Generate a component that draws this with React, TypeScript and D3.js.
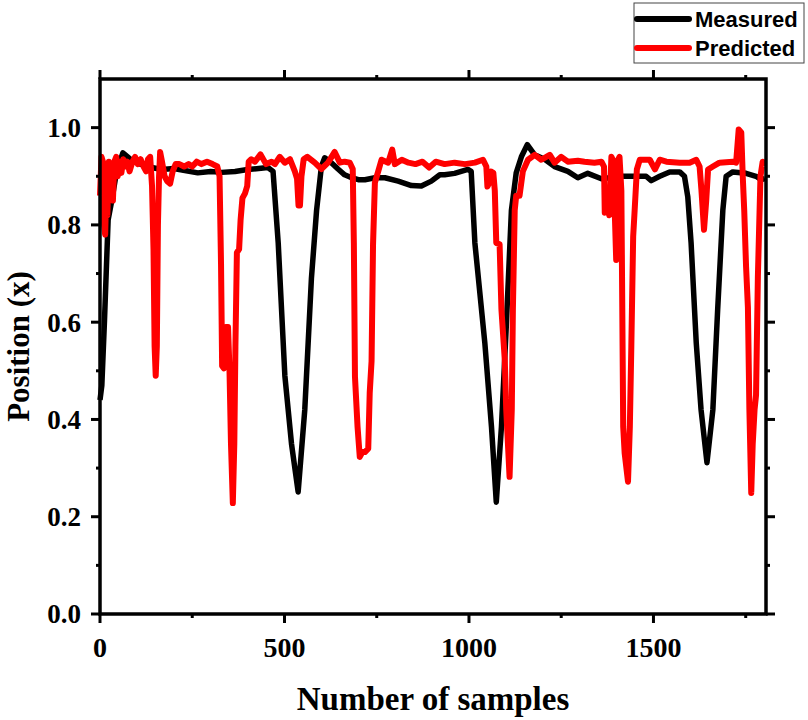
import React, { useRef, useEffect } from 'react';
import * as d3 from 'd3';

// [sample, position]
const measured: [number, number][] = [
  [0, 0.44], [5, 0.47], [12, 0.6], [22, 0.81], [32, 0.85], [45, 0.91], [62, 0.948], [75, 0.94],
  [87, 0.932], [110, 0.925], [140, 0.918], [168, 0.914], [200, 0.916], [230, 0.912], [265, 0.907],
  [300, 0.91], [330, 0.908], [366, 0.91], [400, 0.914], [430, 0.916], [455, 0.918], [469, 0.91],
  [483, 0.763], [501, 0.49], [519, 0.35], [537, 0.251], [555, 0.42], [573, 0.69], [587, 0.83],
  [600, 0.92], [609, 0.938], [627, 0.928], [645, 0.915], [663, 0.903], [682, 0.897], [700, 0.893],
  [718, 0.893], [745, 0.897], [772, 0.897], [808, 0.89], [844, 0.881], [871, 0.88], [898, 0.89],
  [921, 0.903], [934, 0.903], [961, 0.906], [997, 0.914], [1006, 0.91], [1016, 0.763], [1043, 0.557],
  [1061, 0.385], [1074, 0.23], [1088, 0.385], [1101, 0.59], [1115, 0.83], [1128, 0.907], [1142, 0.94],
  [1158, 0.965], [1178, 0.944], [1205, 0.935], [1232, 0.92], [1268, 0.91], [1295, 0.897], [1322, 0.906],
  [1359, 0.895], [1381, 0.897], [1399, 0.9], [1440, 0.9], [1480, 0.9], [1494, 0.891], [1517, 0.9],
  [1544, 0.909], [1571, 0.909], [1584, 0.9], [1593, 0.858], [1602, 0.763], [1616, 0.557], [1629, 0.42],
  [1645, 0.311], [1661, 0.42], [1674, 0.626], [1688, 0.83], [1697, 0.9], [1715, 0.909], [1751, 0.906],
  [1778, 0.9], [1792, 0.893], [1802, 0.895],
];

const predicted: [number, number][] = [
  [0, 0.86], [4, 0.94], [8, 0.93], [11, 0.8], [14, 0.78], [17, 0.87], [20, 0.82], [24, 0.93],
  [27, 0.86], [31, 0.9], [35, 0.85], [39, 0.93], [44, 0.94], [48, 0.9], [53, 0.93], [58, 0.907],
  [63, 0.935], [68, 0.92], [74, 0.93], [80, 0.91], [88, 0.93], [95, 0.94], [102, 0.925], [110, 0.935],
  [118, 0.92], [125, 0.91], [130, 0.935], [136, 0.94], [141, 0.88], [145, 0.75], [148, 0.55],
  [151, 0.49], [154, 0.55], [157, 0.8], [160, 0.9], [163, 0.95], [168, 0.93], [175, 0.9], [182, 0.89],
  [190, 0.885], [197, 0.91], [205, 0.925], [215, 0.925], [228, 0.92], [240, 0.925], [250, 0.92],
  [262, 0.93], [275, 0.925], [290, 0.93], [305, 0.925], [318, 0.92], [324, 0.9], [328, 0.72],
  [331, 0.51], [336, 0.505], [341, 0.59], [347, 0.59], [351, 0.5], [355, 0.35], [360, 0.228],
  [364, 0.35], [367, 0.55], [371, 0.743], [377, 0.75], [381, 0.81], [386, 0.855], [393, 0.865],
  [399, 0.88], [403, 0.93], [410, 0.935], [420, 0.93], [435, 0.945], [450, 0.925], [465, 0.93],
  [474, 0.925], [487, 0.94], [501, 0.928], [515, 0.935], [528, 0.91], [534, 0.895], [538, 0.84],
  [542, 0.84], [546, 0.9], [552, 0.935], [562, 0.94], [582, 0.928], [600, 0.915], [618, 0.928],
  [636, 0.95], [650, 0.928], [663, 0.93], [677, 0.928], [685, 0.915], [688, 0.763], [691, 0.488],
  [698, 0.385], [704, 0.323], [711, 0.333], [718, 0.333], [727, 0.34], [731, 0.455], [736, 0.52],
  [740, 0.76], [745, 0.887], [754, 0.91], [763, 0.934], [781, 0.928], [792, 0.955], [799, 0.925],
  [818, 0.934], [836, 0.928], [855, 0.925], [874, 0.93], [892, 0.918], [910, 0.93], [934, 0.925],
  [961, 0.928], [989, 0.925], [1016, 0.928], [1038, 0.934], [1047, 0.92], [1050, 0.879], [1054, 0.885],
  [1059, 0.91], [1066, 0.907], [1070, 0.87], [1074, 0.763], [1083, 0.76], [1088, 0.626], [1097, 0.523],
  [1101, 0.42], [1110, 0.282], [1116, 0.42], [1119, 0.626], [1124, 0.83], [1128, 0.86], [1137, 0.86],
  [1146, 0.91], [1160, 0.934], [1178, 0.944], [1196, 0.934], [1219, 0.944], [1232, 0.928], [1250, 0.94],
  [1268, 0.93], [1295, 0.932], [1313, 0.93], [1340, 0.928], [1359, 0.93], [1366, 0.92], [1368, 0.825],
  [1374, 0.85], [1380, 0.82], [1386, 0.94], [1390, 0.934], [1395, 0.83], [1399, 0.728], [1404, 0.934],
  [1408, 0.94], [1413, 0.87], [1418, 0.385], [1422, 0.33], [1431, 0.272], [1436, 0.385], [1440, 0.55],
  [1445, 0.776], [1449, 0.83], [1455, 0.914], [1463, 0.934], [1490, 0.934], [1504, 0.914], [1517, 0.934],
  [1535, 0.93], [1571, 0.928], [1598, 0.928], [1616, 0.934], [1625, 0.92], [1630, 0.872], [1637, 0.79],
  [1643, 0.85], [1648, 0.914], [1661, 0.92], [1679, 0.928], [1715, 0.93], [1724, 0.928], [1731, 0.996],
  [1738, 0.99], [1742, 0.9], [1746, 0.83], [1751, 0.714], [1756, 0.63], [1760, 0.42], [1765, 0.249],
  [1769, 0.35], [1774, 0.42], [1778, 0.45], [1783, 0.694], [1790, 0.9], [1796, 0.93], [1800, 0.92],
];

const xMajor = [0, 500, 1000, 1500];
const xMinor = [250, 750, 1250, 1750];
const yMajor = [0, 0.2, 0.4, 0.6, 0.8, 1.0];
const yMinor = [0.1, 0.3, 0.5, 0.7, 0.9];
const seriesNames = ['Measured', 'Predicted'];
const seriesColors = ['#000000', '#ff0000'];

const App: React.FC = () => {
  const svgRef = useRef<SVGSVGElement>(null);

  useEffect(() => {
    if (!svgRef.current) return;
    const svg = d3.select(svgRef.current);
    svg.selectAll('*').remove();

    const left = 100, right = 766, top = 79, bottom = 614;
    const x = d3.scaleLinear().domain([0, 1805]).range([left, right]);
    const y = d3.scaleLinear().domain([0, 1.1]).range([bottom, top]);

    const serif = '"Liberation Serif", "Times New Roman", serif';

    // lines
    const line = d3.line<[number, number]>()
      .x(d => x(d[0]))
      .y(d => y(d[1]));

    [measured, predicted].forEach((data, i) => {
      svg.append('path')
        .datum(data)
        .attr('d', line)
        .attr('fill', 'none')
        .attr('stroke', seriesColors[i])
        .attr('stroke-width', i === 0 ? 5.5 : 6)
        .attr('stroke-linejoin', 'round');
    });

    // frame
    svg.append('rect')
      .attr('x', left).attr('y', top)
      .attr('width', right - left).attr('height', bottom - top)
      .attr('fill', 'none').attr('stroke', '#000').attr('stroke-width', 3.5);

    const ticks = svg.append('g').attr('stroke', '#000').attr('stroke-width', 3);
    const addX = (vals: number[], len: number) => vals.forEach(v => {
      ticks.append('line').attr('x1', x(v)).attr('x2', x(v)).attr('y1', bottom).attr('y2', bottom + len);
      ticks.append('line').attr('x1', x(v)).attr('x2', x(v)).attr('y1', top).attr('y2', top - len);
    });
    const addY = (vals: number[], len: number) => vals.forEach(v => {
      ticks.append('line').attr('y1', y(v)).attr('y2', y(v)).attr('x1', left).attr('x2', left - len);
      ticks.append('line').attr('y1', y(v)).attr('y2', y(v)).attr('x1', right).attr('x2', right + len);
    });
    addX(xMajor, 9);
    addX(xMinor, 4);
    addY(yMajor, 9);
    addY(yMinor, 4);

    // tick labels
    svg.append('g').selectAll('text').data(xMajor).enter().append('text')
      .attr('x', d => x(d)).attr('y', 657)
      .attr('text-anchor', 'middle')
      .style('font-family', serif).style('font-weight', 'bold').style('font-size', '28px')
      .text(d => String(d));

    svg.append('g').selectAll('text').data(yMajor).enter().append('text')
      .attr('x', 81).attr('y', d => y(d)).attr('dy', '0.35em')
      .attr('text-anchor', 'end')
      .style('font-family', serif).style('font-weight', 'bold').style('font-size', '27px')
      .text(d => d3.format('.1f')(d));

    // axis titles
    svg.append('text')
      .attr('x', (left + right) / 2).attr('y', 710)
      .attr('text-anchor', 'middle')
      .style('font-family', serif).style('font-weight', 'bold').style('font-size', '33px')
      .text('Number of samples');

    svg.append('text')
      .attr('transform', `translate(29,${(top + bottom) / 2}) rotate(-90)`)
      .attr('text-anchor', 'middle')
      .style('font-family', serif).style('font-weight', 'bold').style('font-size', '31px')
      .text('Position (x)');

    // legend
    const lg = svg.append('g');
    lg.append('rect')
      .attr('x', 634).attr('y', 3).attr('width', 170).attr('height', 60)
      .attr('fill', '#fff').attr('stroke', '#444').attr('stroke-width', 1);
    seriesNames.forEach((name, i) => {
      const ly = 19 + i * 29;
      lg.append('line')
        .attr('x1', 637).attr('x2', 689).attr('y1', ly).attr('y2', ly)
        .attr('stroke', seriesColors[i]).attr('stroke-width', 6).attr('stroke-linecap', 'round');
      lg.append('text')
        .attr('x', 695).attr('y', ly + 8)
        .style('font-family', '"Liberation Sans", Arial, sans-serif')
        .style('font-weight', 'bold').style('font-size', '22px')
        .text(name);
    });
  }, []);

  return (
    <svg
      ref={svgRef}
      width={808}
      height={720}
      style={{ position: 'absolute', left: 0, top: 0, background: '#fff' }}
    />
  );
};

export default App;
